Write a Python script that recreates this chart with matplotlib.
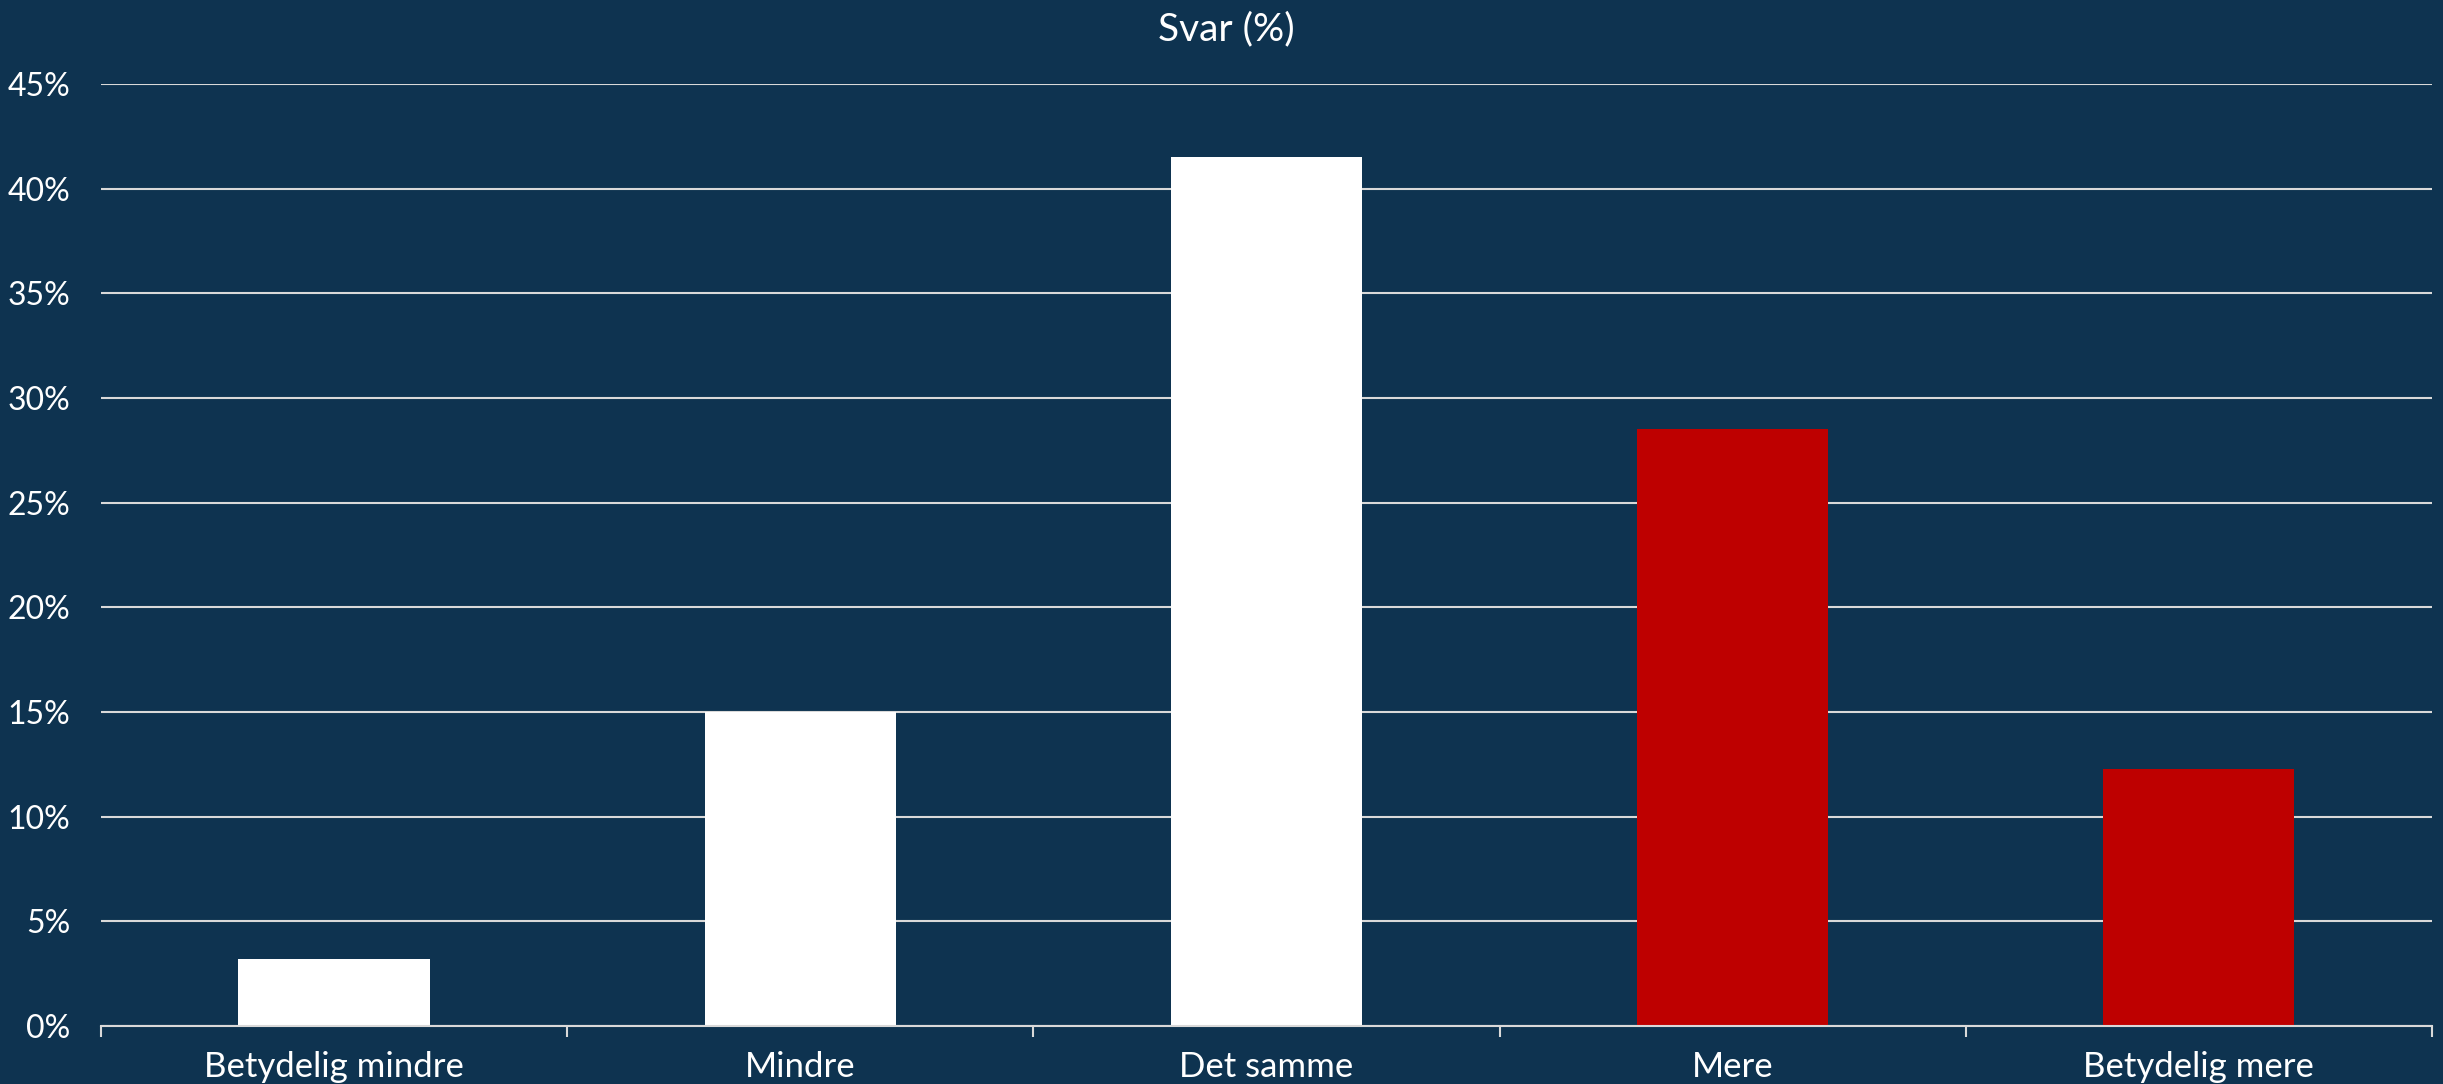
import numpy as np
import matplotlib.pyplot as plt
from matplotlib.ticker import FuncFormatter

categories = ['Betydelig mindre', 'Mindre', 'Det samme', 'Mere', 'Betydelig mere']
values = [3.2, 15.0, 41.5, 28.5, 12.3]
colors = ['#FFFFFF', '#FFFFFF', '#FFFFFF', '#BE0000', '#BE0000']
title = 'Svar (%)'

bg = '#0E3350'
plt.rcParams['font.family'] = ['Lato', 'DejaVu Sans']

fig = plt.figure(figsize=(24.43, 10.84), dpi=100, facecolor=bg)
ax = fig.add_axes([0.0413, 0.0535, 0.9542, 0.869])
ax.set_facecolor(bg)

x = np.arange(len(categories))
ax.bar(x, values, width=0.41, color=colors, zorder=3)

ax.set_ylim(0, 45)
ax.set_xlim(-0.5, len(categories) - 0.5)
ax.set_yticks(np.arange(0, 46, 5))
ax.yaxis.set_major_formatter(FuncFormatter(lambda v, p: f'{int(v)}%'))
ax.grid(axis='y', color='#D9D9D9', linewidth=1.5, zorder=1)

ax.set_xticks(x)
ax.set_xticklabels(categories)
ax.set_xticks(np.arange(-0.5, len(categories), 1), minor=True)
ax.tick_params(axis='x', which='major', length=0, pad=18, labelsize=25, labelcolor='white')
ax.tick_params(axis='x', which='minor', length=8, width=1.5, color='#D9D9D9', direction='out')
ax.tick_params(axis='y', length=0, pad=22, labelsize=23, labelcolor='white')

for s in ['top', 'right', 'left']:
    ax.spines[s].set_visible(False)
ax.spines['bottom'].set_color('#D9D9D9')
ax.spines['bottom'].set_linewidth(1.5)
ax.spines['bottom'].set_zorder(4)

fig.text(0.502, 0.973, title, ha='center', va='center', color='white', fontsize=28)

fig.savefig('out.png', dpi=100, facecolor=bg)
